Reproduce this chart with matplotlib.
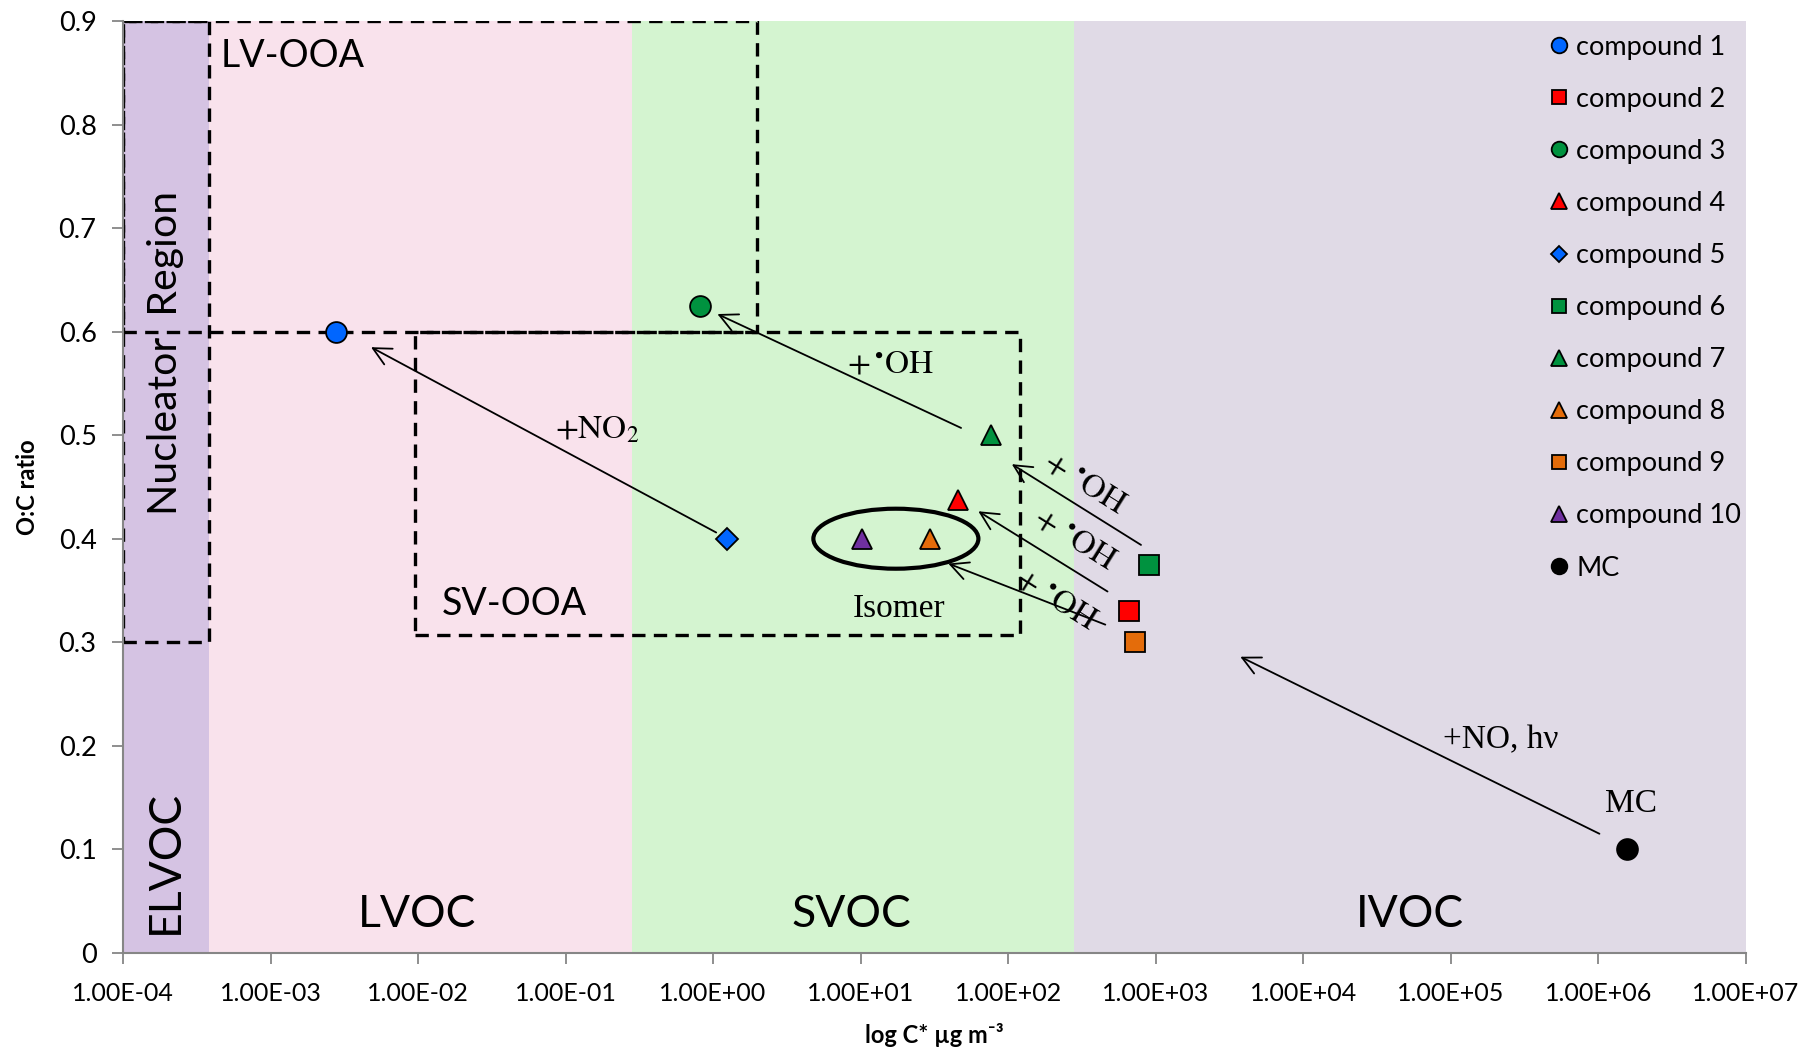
import matplotlib
matplotlib.use("Agg")
import numpy as np
import matplotlib.pyplot as plt
from matplotlib.patches import Ellipse
from matplotlib.ticker import FuncFormatter, FixedLocator

plt.rcParams['font.family'] = ['Lato', 'DejaVu Sans']
plt.rcParams['mathtext.fontset'] = 'stix'

# --- data ---
names = ["compound 1", "compound 2", "compound 3", "compound 4", "compound 5",
         "compound 6", "compound 7", "compound 8", "compound 9", "compound 10", "MC"]
cstar = [2.8e-3, 663, 0.82, 46, 1.24, 900, 77, 29.5, 726, 10.2, 1.57e6]
oc = [0.6, 0.33, 0.625, 0.4375, 0.4, 0.375, 0.5, 0.4, 0.3, 0.4, 0.1]
markers = ["o", "s", "o", "^", "D", "s", "^", "^", "s", "^", "o"]
colors = ["#0066ff", "#ff0000", "#00923f", "#ff0000", "#0066ff",
          "#00923f", "#00923f", "#e46c0a", "#e46c0a", "#7030a0", "#000000"]
msizes = [15, 14, 15, 15, 11, 14, 15, 15, 14, 15, 15]

# volatility classes (x edges) and colours
band_edges = [1e-4, 3.8e-4, 0.28, 280, 1e7]
band_names = ["ELVOC", "LVOC", "SVOC", "IVOC"]
band_colors = ["#d5c3e3", "#f9e2ec", "#d4f4d0", "#e0dae6"]

# dashed boxes: (x0, x1, y0, y1)
boxes = [(1e-4, 3.8e-4, 0.3, 0.9),
         (1e-4, 2.0, 0.6, 0.9),
         (0.0095, 120, 0.307, 0.6)]

# reaction arrows: (tail x, tail y, head x, head y)
arrows = [(1.05, 0.406, 4.8e-3, 0.585),
          (48, 0.507, 1.07, 0.617),
          (796, 0.394, 106, 0.472),
          (472, 0.349, 62.8, 0.4265),
          (456, 0.317, 39.3, 0.376),
          (1.02e6, 0.115, 3750, 0.286)]

fig = plt.figure(figsize=(18.09, 10.54), dpi=100)
ax = fig.add_axes([0.068, 0.096, 0.897, 0.884])
ax.set_xscale("log")
ax.set_xlim(1e-4, 1e7)
ax.set_ylim(0, 0.9)

for i in range(len(band_names)):
    ax.axvspan(band_edges[i], band_edges[i + 1], color=band_colors[i], lw=0, zorder=0)

for x0, x1, y0, y1 in boxes:
    ax.plot([x0, x1, x1, x0, x0], [y0, y0, y1, y1, y0], color="black",
            lw=2.4, linestyle=(0, (4, 2.5)), zorder=2)

for tx, ty, hx, hy in arrows:
    ax.annotate("", xy=(hx, hy), xytext=(tx, ty),
                arrowprops=dict(arrowstyle="->", lw=1.3, color="black",
                                mutation_scale=32, shrinkA=0, shrinkB=0),
                zorder=3)

for i in range(len(names)):
    ax.plot(cstar[i], oc[i], linestyle="none", marker=markers[i], color=colors[i],
            markersize=msizes[i], markeredgecolor="black", markeredgewidth=1.3,
            label=names[i], zorder=5)

# ellipse around the isomers (compound 10 and 8), centred between them
iso_x = np.sqrt(cstar[9] * cstar[7])
iso_y = oc[9]
cx, cy = ax.transAxes.inverted().transform(ax.transData.transform((iso_x, iso_y)))
ax.add_patch(Ellipse((cx, cy), 0.1017, 0.0644, transform=ax.transAxes,
                     fill=False, lw=3, edgecolor="black", zorder=4))

# region labels
big = dict(fontsize=32, color="black", zorder=6)
ax.text(0.0099, 0.037, "LVOC", ha="center", va="center", **big)
ax.text(8.65, 0.037, "SVOC", ha="center", va="center", **big)
ax.text(5.3e4, 0.037, "IVOC", ha="center", va="center", **big)
ax.text(1.95e-4, 0.088, "ELVOC", ha="center", va="center", rotation=90, **big)
ax.text(1.95e-4, 0.579, "Nucleator  Region", ha="center", va="center", rotation=90,
        fontsize=29.5, zorder=6)
mid = dict(fontsize=27, color="black", zorder=6)
ax.text(4.6e-4, 0.866, "LV-OOA", ha="left", va="center", **mid)
ax.text(0.0145, 0.337, "SV-OOA", ha="left", va="center", **mid)

serif = dict(fontsize=24, color="black", zorder=6)
tnr = dict(fontsize=24, color="black", zorder=6, family=["Liberation Serif", "DejaVu Serif"])
ax.text(0.164, 0.505, r"$+\mathrm{NO}_2$", ha="center", va="center", **serif)
ax.text(16, 0.569, r"$+\,^{\bullet}\mathrm{OH}$", ha="center", va="center", **serif)
ax.text(330, 0.454, r"$+\ ^{\bullet}\mathrm{OH}$", ha="center", va="center", rotation=-32, **serif)
ax.text(285, 0.400, r"$+\ ^{\bullet}\mathrm{OH}$", ha="center", va="center", rotation=-32, **serif)
ax.text(210, 0.342, r"$+\ ^{\bullet}\mathrm{OH}$", ha="center", va="center", rotation=-32, **serif)
ax.text(18.1, 0.332, "Isomer", ha="center", va="center", **tnr)
ax.text(2.2e5, 0.206, "+NO, hν", ha="center", va="center", **tnr)
ax.text(1.66e6, 0.1437, "MC", ha="center", va="center", **tnr)

# axes styling
for s in ["top", "right"]:
    ax.spines[s].set_visible(False)
for s in ["left", "bottom"]:
    ax.spines[s].set_color("#868686")
    ax.spines[s].set_linewidth(1.5)
ax.xaxis.set_major_locator(FixedLocator([10.0 ** k for k in range(-4, 8)]))
ax.xaxis.set_minor_locator(FixedLocator([]))
ax.xaxis.set_major_formatter(FuncFormatter(lambda v, p: f"{v:.2E}"))
ax.set_yticks(np.arange(0, 0.91, 0.1))
ax.yaxis.set_major_formatter(FuncFormatter(lambda v, p: "0" if abs(v) < 1e-9 else f"{v:.1f}"))
ax.tick_params(axis="both", direction="out", length=8, width=1.3, color="#868686")
ax.tick_params(axis="x", labelsize=18, pad=13)
ax.tick_params(axis="y", labelsize=19.5, pad=11)

ax.set_ylabel("O:C ratio", fontsize=17, fontweight="bold", labelpad=14)
ax.set_xlabel("log C* µg m⁻³", fontsize=17, fontweight="bold", labelpad=13)

leg = ax.legend(loc="upper right", bbox_to_anchor=(1.004, 0.997), frameon=False,
                fontsize=19.5, markerscale=0.75, handlelength=0.6, handletextpad=0.35,
                labelspacing=1.0, borderaxespad=0.0)

fig.savefig("out.png", dpi=100)
